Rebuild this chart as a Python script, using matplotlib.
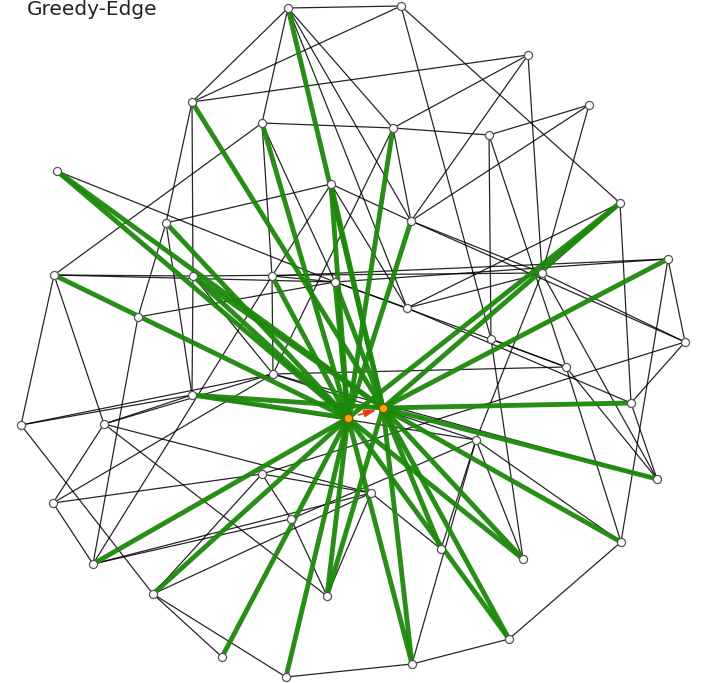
import matplotlib
matplotlib.use("Agg")
import matplotlib.pyplot as plt

# Node positions (layout units, y grows downward)
node_x = [288, 401, 528, 589, 192, 262, 393, 489, 57, 331,
          620, 411, 166, 54, 193, 272, 335, 542, 668, 407,
          138, 491, 685, 566, 273, 192, 631, 21, 104, 476,
          262, 371, 53, 291, 441, 657, 621, 523, 93, 153,
          327, 509, 222, 286, 412]
node_y = [8, 6, 55, 105, 102, 123, 128, 135, 171, 184,
          203, 221, 223, 275, 276, 276, 282, 273, 259, 308,
          317, 339, 342, 367, 374, 395, 403, 425, 424, 440,
          474, 493, 503, 519, 549, 479, 542, 559, 564, 594,
          596, 639, 657, 677, 664]

# Two hub nodes
hub_x = [348, 383]
hub_y = [418, 408]

# Plain graph edges
edges = [(0, 1), (0, 4), (0, 5), (0, 6), (0, 11), (0, 19),
         (1, 4), (1, 10), (1, 21),
         (2, 4), (2, 6), (2, 11), (2, 17),
         (3, 7), (3, 11), (3, 17),
         (4, 12), (4, 14),
         (5, 6), (5, 13), (5, 16), (5, 15),
         (6, 7), (6, 11), (6, 24),
         (7, 21), (7, 23),
         (8, 16),
         (9, 11), (9, 12), (9, 15), (9, 19),
         (10, 17), (10, 19), (10, 26),
         (11, 17), (11, 22),
         (12, 20), (12, 25),
         (13, 14), (13, 16), (13, 27), (13, 28),
         (14, 17), (14, 25), (14, 24),
         (15, 16), (15, 18), (15, 24),
         (16, 18), (16, 19), (16, 20), (16, 23),
         (17, 22), (17, 29), (17, 19),
         (18, 36), (18, 22),
         (19, 26),
         (20, 38),
         (21, 23), (21, 37),
         (22, 26), (22, 30),
         (23, 24), (23, 36), (23, 35),
         (25, 27), (25, 28), (25, 29),
         (26, 35), (35, 17), (35, 24),
         (27, 24), (27, 39),
         (28, 24), (28, 31), (28, 40),
         (29, 36), (29, 37), (29, 44), (29, 24),
         (30, 32), (30, 31), (30, 33), (30, 39),
         (31, 34), (31, 40), (31, 39), (31, 38),
         (32, 38), (32, 28), (32, 24),
         (33, 38), (33, 40), (33, 29),
         (34, 29),
         (15, 38),
         (39, 42), (39, 43),
         (36, 41), (41, 44), (43, 44)]

# Links from nodes to hubs (node index, hub index)
hub_links = [(0, 1), (4, 1), (5, 0), (6, 0),
             (8, 0), (8, 1), (9, 0), (9, 1), (10, 0), (10, 1),
             (11, 0), (12, 0), (13, 0), (14, 0), (14, 1),
             (15, 0), (16, 0), (16, 1), (18, 1),
             (25, 0), (25, 1), (26, 1), (35, 1), (36, 1),
             (37, 0), (37, 1), (41, 0), (41, 1), (44, 0), (44, 1),
             (43, 0), (42, 0), (40, 0), (40, 1), (39, 0),
             (38, 0), (34, 1)]

title = "Greedy-Edge"

fig = plt.figure(figsize=(7.11, 6.83), dpi=100)
ax = fig.add_axes([0, 0, 1, 1])
ax.set_xlim(0, 711)
ax.set_ylim(683, 0)
ax.axis("off")

for a, b in edges:
    ax.plot([node_x[a], node_x[b]], [node_y[a], node_y[b]],
            color="black", lw=0.9, alpha=0.85, zorder=1,
            solid_capstyle="round")

for n, h in hub_links:
    ax.plot([node_x[n], hub_x[h]], [node_y[n], hub_y[h]],
            color="#1d880a", lw=3.5, alpha=0.95, zorder=2,
            solid_capstyle="round")

ax.scatter(node_x, node_y, s=34, facecolor="white", edgecolor="#555555",
           linewidth=0.9, zorder=4)
ax.scatter(hub_x, hub_y, s=38, facecolor="#f5a800", edgecolor="#7a4f00",
           linewidth=0.9, zorder=5)

# Direction marker between the two hubs
ax.annotate("", xy=(hub_x[1], hub_y[1]), xytext=(hub_x[0], hub_y[0]),
            arrowprops=dict(arrowstyle="-|>,head_length=0.7,head_width=0.22",
                            color="#e83a10", shrinkA=8, shrinkB=5,
                            lw=1.2),
            zorder=6)

fig.text(27 / 711, 1 - 15 / 683, title, fontsize=14.5, color="#222222",
         ha="left", va="baseline", family="DejaVu Sans")

fig.savefig("out.png", dpi=100)
